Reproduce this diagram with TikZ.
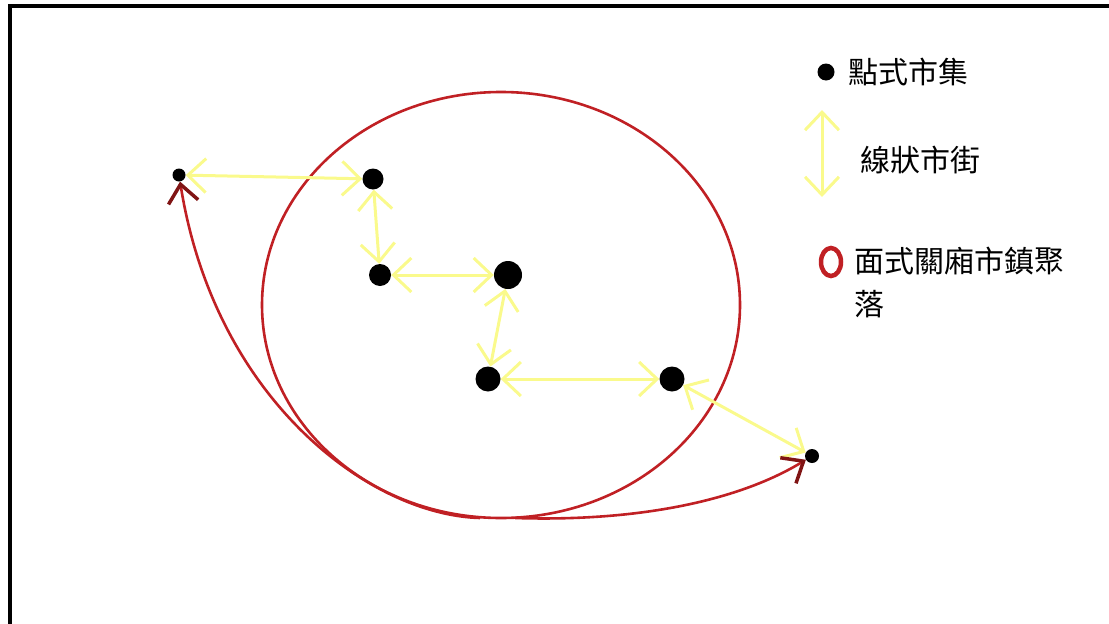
\documentclass[tikz,border=0pt]{standalone}
\usepackage{fontspec}
\newfontfamily\cjk{Noto Sans CJK TC}
\usepackage{tikz}
\usetikzlibrary{arrows.meta,shapes.geometric}
\definecolor{streetyellow}{RGB}{250,250,140}
\definecolor{ringred}{RGB}{192,32,36}
\definecolor{headred}{RGB}{128,20,20}

\begin{document}
\begin{tikzpicture}[x=1pt,y=-1pt]
\tikzstyle{every node}+=[inner sep=0pt]
\tikzstyle{market}=[circle,fill=black]
\tikzstyle{street}=[draw=streetyellow,line width=3pt,{Straight Barb[length=18pt,width=34pt]}-{Straight Barb[length=18pt,width=34pt]}]
\tikzstyle{ring}=[draw=ringred,line width=2.6pt]
\tikzstyle{keytext}=[font=\cjk\fontsize{30}{43}\selectfont,text=black]
\useasboundingbox (0,0) rectangle (1109,624);
\draw [black,line width=4pt] (10,624) -- (10,6) -- (1109,6);
\draw [ring] (501,305) ellipse [x radius=239, y radius=213];
\node [market,minimum size=13pt] (a) at (179,175) {};
\node [market,minimum size=21pt] (b) at (373,179) {};
\node [market,minimum size=22pt] (c) at (380,275) {};
\node [market,minimum size=28pt] (d) at (508,275) {};
\node [market,minimum size=25pt] (e) at (488,379) {};
\node [market,minimum size=25pt] (f) at (672,379) {};
\node [market,minimum size=14pt] (g) at (812,456) {};
\draw [street] (a) -- (b);
\draw [street] (b) -- (c);
\draw [street] (c) -- (d);
\draw [street] (d) -- (e);
\draw [street] (e) -- (f);
\draw [street] (f) -- (g);
\coordinate (lowl) at (480,518);
\coordinate (lowr) at (515,518);
\draw [ring,-{Straight Barb[color=headred,length=18pt,width=30pt,line width=3.5pt]}] (lowl) .. controls (370,515) and (215,400) .. (a);
\draw [ring,-{Straight Barb[color=headred,length=18pt,width=30pt,line width=3.5pt]}] (lowr) .. controls (640,522) and (740,500) .. (g);
\node [market,minimum size=17pt] (ldot) at (826,72) {};
\node [keytext,anchor=west] (lmarket) at (848,72) {點式市集};
\coordinate (lup) at (822,110);
\coordinate (ldown) at (822,197);
\draw [street] (lup) -- (ldown);
\node [keytext,anchor=west] (lstreet) at (860,160) {線狀市街};
\node [ellipse,draw=ringred,line width=4.5pt,minimum width=20pt,minimum height=28pt] (lring) at (831,262) {};
\node [keytext,anchor=north west,align=left] (ltown) at (854,247) {面式關廂市鎮聚\\落};
\end{tikzpicture}
\end{document}
